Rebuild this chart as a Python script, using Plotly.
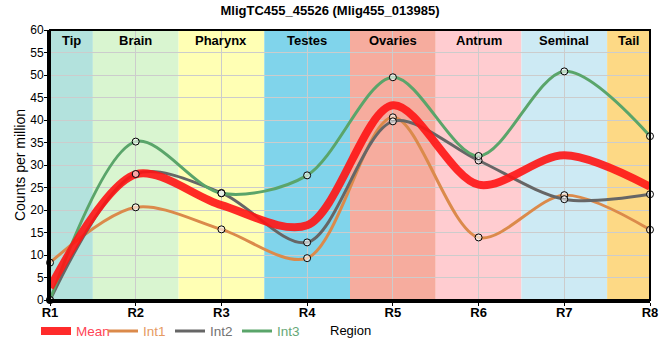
import plotly.graph_objects as go

title = "MligTC455_45526 (Mlig455_013985)"
positions = ["R1", "R2", "R3", "R4", "R5", "R6", "R7", "R8"]
tissues = ["Tip", "Brain", "Pharynx", "Testes", "Ovaries", "Antrum", "Seminal", "Tail"]
tissue_colors = ["#b3e2dd", "#d9f5d0", "#ffffb4", "#80d4eb", "#f6ac9e", "#ffccd0", "#cdeaf4", "#fdd985"]

int1 = [8.3, 20.6, 15.7, 9.3, 40.6, 13.9, 23.3, 15.6]
int2 = [0.0, 28.0, 23.8, 12.8, 39.7, 31.0, 22.4, 23.5]
int3 = [0.0, 35.2, 23.7, 27.7, 49.5, 32.0, 50.8, 36.4]
mean = [(a + b + c) / 3 for a, b, c in zip(int1, int2, int3)]

series = [("Int1", int1, "#db8a4b", "#e69a62"),
          ("Int2", int2, "#666666", "#727272"),
          ("Int3", int3, "#5aa56a", "#66a877")]

x = list(range(1, len(positions) + 1))
fig = go.Figure()

for name, vals, col, tcol in series:
    fig.add_trace(go.Scatter(
        x=x, y=vals, mode="lines", name=f'<span style="color:{tcol}">{name}</span>',
        line=dict(color=col, width=3, shape="spline", smoothing=0.9),
        legendrank=2,
    ))

fig.add_trace(go.Scatter(
    x=x, y=mean, mode="lines", name='<span style="color:#ff4455">Mean</span>',
    line=dict(color="rgba(255,20,20,0.9)", width=8, shape="spline", smoothing=0.9),
    legendrank=1,
))

for name, vals, col, tcol in series:
    fig.add_trace(go.Scatter(
        x=x, y=vals, mode="markers", showlegend=False, cliponaxis=False,
        marker=dict(symbol="circle", size=7, color="rgba(255,255,255,0.6)",
                    line=dict(color="black", width=1)),
    ))

n = len(tissues)
for i, (t, c) in enumerate(zip(tissues, tissue_colors)):
    x0 = max(1, i + 0.5)
    x1 = min(n, i + 1.5)
    fig.add_shape(type="rect", xref="x", yref="paper", x0=x0, x1=x1, y0=0, y1=1,
                  fillcolor=c, line=dict(width=0), layer="below")
    fig.add_annotation(x=(x0 + x1) / 2, xref="x", y=1, yref="paper", yanchor="top",
                       yshift=-1, text=f"<b>{t}</b>", showarrow=False,
                       font=dict(size=13, color="black", family="Liberation Sans"))

fig.add_shape(type="rect", xref="paper", yref="paper", x0=0, x1=1, y0=0, y1=1,
              line=dict(color="black", width=2), layer="above")

# x-axis title placed as annotation in the bottom margin
fig.add_annotation(x=0.5, xref="paper", y=-31 / 270, yref="paper", yanchor="middle",
                   text="Region", showarrow=False, font=dict(size=13, color="black"))

fig.update_layout(
    width=660, height=360,
    margin=dict(l=50, r=10, t=30, b=60, autoexpand=False),
    paper_bgcolor="white", plot_bgcolor="white",
    title=dict(text=f"<b>{title}</b>", x=0.5, xanchor="center", y=0.97, yanchor="middle",
               font=dict(size=13, family="Liberation Sans", color="black")),
    font=dict(family="Liberation Sans", color="black"),
    legend=dict(orientation="h", x=36 / 660, xanchor="left", xref="container",
                y=0.08, yanchor="middle", yref="container",
                font=dict(size=13.5), itemwidth=30, entrywidth=22, entrywidthmode="pixels",
                traceorder="normal", bgcolor="rgba(0,0,0,0)"),
    showlegend=True,
)

fig.update_xaxes(
    range=[1, n], tickvals=x, ticktext=[f"<b>{p}</b>" for p in positions],
    tickfont=dict(size=13, family="Liberation Sans"), automargin=True,
    showgrid=True, gridcolor="#cccccc", gridwidth=1,
    showline=True, linecolor="black", linewidth=3,
    ticks="outside", ticklen=3, tickcolor="black", ticklabelstandoff=-5,
    zeroline=False,
)
fig.update_yaxes(
    range=[0, 60], dtick=5, tickfont=dict(size=12, family="Liberation Sans"), automargin=True,
    showgrid=True, gridcolor="#cccccc", gridwidth=1,
    showline=True, linecolor="black", linewidth=3,
    ticks="outside", ticklen=3, tickcolor="black", ticklabelstandoff=-2,
    title=dict(text="Counts per million", font=dict(size=14), standoff=2), zeroline=False,
)

fig.write_html("out.html", config={"displayModeBar": False},
               post_script="document.body.style.margin='0px';")
